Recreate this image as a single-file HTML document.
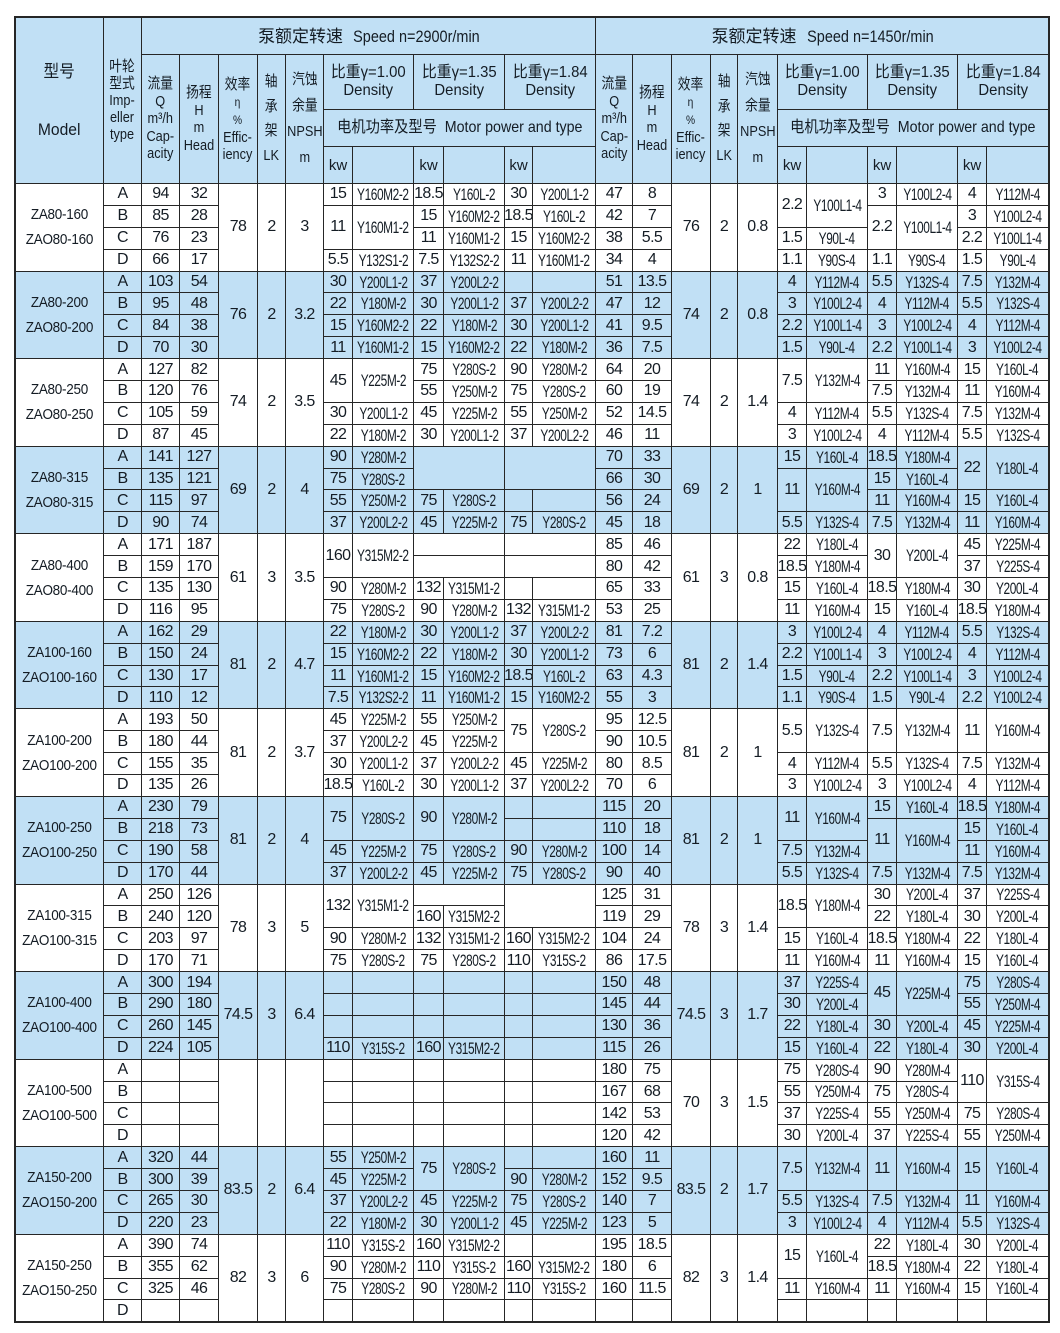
<!DOCTYPE html>
<html><head><meta charset="utf-8">
<style>
html,body{margin:0;padding:0;background:#fff}
body{width:1060px;height:1333px;position:relative;overflow:hidden;font-family:"Liberation Sans","Noto Sans CJK SC",sans-serif;color:#141c24}
#w{position:absolute;left:14px;top:16px;border:2px solid #262626;background:#262626;width:1032px}
.g{display:grid;grid-template-columns:87px 37px 37px 38px 38px 27px 37px 28px 60px 29px 60px 27px 62px 36px 38px 38px 26px 39px 28px 60px 28px 60px 28px 61px;gap:1px;background:#262626;margin-bottom:1px}
.g:last-child{margin-bottom:0}
.hd{grid-template-rows:36px 54px 36px 36px}
.bd{grid-template-rows:repeat(4,20.9px)}
c{display:flex;align-items:center;justify-content:center;text-align:center;white-space:nowrap;overflow:hidden;background:#fff;font-size:16px;letter-spacing:-.6px;line-height:1}
.hd c,.b c{background:#c1e0f5}
.r2{grid-row:span 2}.r3{grid-row:span 3}.r4{grid-row:span 4}.c2{grid-column:span 2}.c6{grid-column:span 6}.c11{grid-column:span 11}
t{display:inline-block;font-size:17px;transform:scaleX(.7)}
d{display:block;letter-spacing:0;white-space:nowrap}
.md{font-size:15px;line-height:25px;transform:scaleX(.9);letter-spacing:-.3px}
.hp{transform:scaleX(.85);font-size:15px}
.h0{font-size:17px;line-height:29px;transform:scaleX(.92)}
.sp{font-size:17px;letter-spacing:0}
.sl{display:inline-block;transform:scaleX(.85);margin:0 -12px 0 -1px}
.dn{font-size:16px;line-height:18px;transform:scaleX(.93)}
.hm{font-size:16px;transform:scaleX(.89)}
small{font-size:12px}
.kw{font-size:15px;letter-spacing:0}
</style></head><body>
<div id="w">
<div class="g hd">
<c class="r4"><d class="h0">型号<br><br>Model</d></c>
<c class="r4"><d class="hp" style="line-height:17px">叶轮<br>型式<br>Imp-<br>eller<br>type</d></c>
<c class="c11 sp">泵额定转速<span class="sl">Speed n=2900r/min</span></c>
<c class="c11 sp">泵额定转速<span class="sl">Speed n=1450r/min</span></c>
<c class="r3"><d class="hp" style="line-height:17.4px">流量<br>Q<br>m³/h<br>Cap-<br>acity</d></c>
<c class="r3"><d class="hp" style="line-height:17.5px">扬程<br>H<br>m<br>Head</d></c>
<c class="r3"><d class="hp" style="line-height:17px">效率<br><small>η</small><br><small>%</small><br>Effic-<br>iency</d></c>
<c class="r3"><d class="hp" style="line-height:24.5px">轴<br>承<br>架<br>LK</d></c>
<c class="r3"><d class="hp" style="line-height:26px">汽蚀<br>余量<br>NPSH<br>m</d></c>
<c class="c2"><d class="dn">比重γ=1.00<br>Density</d></c>
<c class="c2"><d class="dn">比重γ=1.35<br>Density</d></c>
<c class="c2"><d class="dn">比重γ=1.84<br>Density</d></c>
<c class="r3"><d class="hp" style="line-height:17.4px">流量<br>Q<br>m³/h<br>Cap-<br>acity</d></c>
<c class="r3"><d class="hp" style="line-height:17.5px">扬程<br>H<br>m<br>Head</d></c>
<c class="r3"><d class="hp" style="line-height:17px">效率<br><small>η</small><br><small>%</small><br>Effic-<br>iency</d></c>
<c class="r3"><d class="hp" style="line-height:24.5px">轴<br>承<br>架<br>LK</d></c>
<c class="r3"><d class="hp" style="line-height:26px">汽蚀<br>余量<br>NPSH<br>m</d></c>
<c class="c2"><d class="dn">比重γ=1.00<br>Density</d></c>
<c class="c2"><d class="dn">比重γ=1.35<br>Density</d></c>
<c class="c2"><d class="dn">比重γ=1.84<br>Density</d></c>
<c class="c6"><d class="hm">电机功率及型号&nbsp; Motor power and type</d></c>
<c class="c6"><d class="hm">电机功率及型号&nbsp; Motor power and type</d></c>
<c class="kw">kw</c><c></c><c class="kw">kw</c><c></c><c class="kw">kw</c><c></c>
<c class="kw">kw</c><c></c><c class="kw">kw</c><c></c><c class="kw">kw</c><c></c>
</div>

<div class="g bd">
<c class="r4"><d class="md">ZA80-160<br>ZAO80-160</d></c><c>A</c><c>94</c><c>32</c><c class="r4">78</c><c class="r4">2</c><c class="r4">3</c><c>15</c><c><t>Y160M2-2</t></c><c>18.5</c><c><t>Y160L-2</t></c><c>30</c><c><t>Y200L1-2</t></c><c>47</c><c>8</c><c class="r4">76</c><c class="r4">2</c><c class="r4">0.8</c><c class="r2">2.2</c><c class="r2"><t>Y100L1-4</t></c><c>3</c><c><t>Y100L2-4</t></c><c>4</c><c><t>Y112M-4</t></c>
<c>B</c><c>85</c><c>28</c><c class="r2">11</c><c class="r2"><t>Y160M1-2</t></c><c>15</c><c><t>Y160M2-2</t></c><c>18.5</c><c><t>Y160L-2</t></c><c>42</c><c>7</c><c class="r2">2.2</c><c class="r2"><t>Y100L1-4</t></c><c>3</c><c><t>Y100L2-4</t></c>
<c>C</c><c>76</c><c>23</c><c>11</c><c><t>Y160M1-2</t></c><c>15</c><c><t>Y160M2-2</t></c><c>38</c><c>5.5</c><c>1.5</c><c><t>Y90L-4</t></c><c>2.2</c><c><t>Y100L1-4</t></c>
<c>D</c><c>66</c><c>17</c><c>5.5</c><c><t>Y132S1-2</t></c><c>7.5</c><c><t>Y132S2-2</t></c><c>11</c><c><t>Y160M1-2</t></c><c>34</c><c>4</c><c>1.1</c><c><t>Y90S-4</t></c><c>1.1</c><c><t>Y90S-4</t></c><c>1.5</c><c><t>Y90L-4</t></c>
</div>

<div class="g bd b">
<c class="r4"><d class="md">ZA80-200<br>ZAO80-200</d></c><c>A</c><c>103</c><c>54</c><c class="r4">76</c><c class="r4">2</c><c class="r4">3.2</c><c>30</c><c><t>Y200L1-2</t></c><c>37</c><c><t>Y200L2-2</t></c><c></c><c></c><c>51</c><c>13.5</c><c class="r4">74</c><c class="r4">2</c><c class="r4">0.8</c><c>4</c><c><t>Y112M-4</t></c><c>5.5</c><c><t>Y132S-4</t></c><c>7.5</c><c><t>Y132M-4</t></c>
<c>B</c><c>95</c><c>48</c><c>22</c><c><t>Y180M-2</t></c><c>30</c><c><t>Y200L1-2</t></c><c>37</c><c><t>Y200L2-2</t></c><c>47</c><c>12</c><c>3</c><c><t>Y100L2-4</t></c><c>4</c><c><t>Y112M-4</t></c><c>5.5</c><c><t>Y132S-4</t></c>
<c>C</c><c>84</c><c>38</c><c>15</c><c><t>Y160M2-2</t></c><c>22</c><c><t>Y180M-2</t></c><c>30</c><c><t>Y200L1-2</t></c><c>41</c><c>9.5</c><c>2.2</c><c><t>Y100L1-4</t></c><c>3</c><c><t>Y100L2-4</t></c><c>4</c><c><t>Y112M-4</t></c>
<c>D</c><c>70</c><c>30</c><c>11</c><c><t>Y160M1-2</t></c><c>15</c><c><t>Y160M2-2</t></c><c>22</c><c><t>Y180M-2</t></c><c>36</c><c>7.5</c><c>1.5</c><c><t>Y90L-4</t></c><c>2.2</c><c><t>Y100L1-4</t></c><c>3</c><c><t>Y100L2-4</t></c>
</div>

<div class="g bd">
<c class="r4"><d class="md">ZA80-250<br>ZAO80-250</d></c><c>A</c><c>127</c><c>82</c><c class="r4">74</c><c class="r4">2</c><c class="r4">3.5</c><c class="r2">45</c><c class="r2"><t>Y225M-2</t></c><c>75</c><c><t>Y280S-2</t></c><c>90</c><c><t>Y280M-2</t></c><c>64</c><c>20</c><c class="r4">74</c><c class="r4">2</c><c class="r4">1.4</c><c class="r2">7.5</c><c class="r2"><t>Y132M-4</t></c><c>11</c><c><t>Y160M-4</t></c><c>15</c><c><t>Y160L-4</t></c>
<c>B</c><c>120</c><c>76</c><c>55</c><c><t>Y250M-2</t></c><c>75</c><c><t>Y280S-2</t></c><c>60</c><c>19</c><c>7.5</c><c><t>Y132M-4</t></c><c>11</c><c><t>Y160M-4</t></c>
<c>C</c><c>105</c><c>59</c><c>30</c><c><t>Y200L1-2</t></c><c>45</c><c><t>Y225M-2</t></c><c>55</c><c><t>Y250M-2</t></c><c>52</c><c>14.5</c><c>4</c><c><t>Y112M-4</t></c><c>5.5</c><c><t>Y132S-4</t></c><c>7.5</c><c><t>Y132M-4</t></c>
<c>D</c><c>87</c><c>45</c><c>22</c><c><t>Y180M-2</t></c><c>30</c><c><t>Y200L1-2</t></c><c>37</c><c><t>Y200L2-2</t></c><c>46</c><c>11</c><c>3</c><c><t>Y100L2-4</t></c><c>4</c><c><t>Y112M-4</t></c><c>5.5</c><c><t>Y132S-4</t></c>
</div>

<div class="g bd b">
<c class="r4"><d class="md">ZA80-315<br>ZAO80-315</d></c><c>A</c><c>141</c><c>127</c><c class="r4">69</c><c class="r4">2</c><c class="r4">4</c><c>90</c><c><t>Y280M-2</t></c><c class="c2 r2"></c><c class="c2 r2"></c><c>70</c><c>33</c><c class="r4">69</c><c class="r4">2</c><c class="r4">1</c><c>15</c><c><t>Y160L-4</t></c><c>18.5</c><c><t>Y180M-4</t></c><c class="r2">22</c><c class="r2"><t>Y180L-4</t></c>
<c>B</c><c>135</c><c>121</c><c>75</c><c><t>Y280S-2</t></c><c>66</c><c>30</c><c class="r2">11</c><c class="r2"><t>Y160M-4</t></c><c>15</c><c><t>Y160L-4</t></c>
<c>C</c><c>115</c><c>97</c><c>55</c><c><t>Y250M-2</t></c><c>75</c><c><t>Y280S-2</t></c><c></c><c></c><c>56</c><c>24</c><c>11</c><c><t>Y160M-4</t></c><c>15</c><c><t>Y160L-4</t></c>
<c>D</c><c>90</c><c>74</c><c>37</c><c><t>Y200L2-2</t></c><c>45</c><c><t>Y225M-2</t></c><c>75</c><c><t>Y280S-2</t></c><c>45</c><c>18</c><c>5.5</c><c><t>Y132S-4</t></c><c>7.5</c><c><t>Y132M-4</t></c><c>11</c><c><t>Y160M-4</t></c>
</div>

<div class="g bd">
<c class="r4"><d class="md">ZA80-400<br>ZAO80-400</d></c><c>A</c><c>171</c><c>187</c><c class="r4">61</c><c class="r4">3</c><c class="r4">3.5</c><c class="r2">160</c><c class="r2"><t>Y315M2-2</t></c><c class="c2"></c><c class="c2"></c><c>85</c><c>46</c><c class="r4">61</c><c class="r4">3</c><c class="r4">0.8</c><c>22</c><c><t>Y180L-4</t></c><c class="r2">30</c><c class="r2"><t>Y200L-4</t></c><c>45</c><c><t>Y225M-4</t></c>
<c>B</c><c>159</c><c>170</c><c class="c2"></c><c class="c2"></c><c>80</c><c>42</c><c>18.5</c><c><t>Y180M-4</t></c><c>37</c><c><t>Y225S-4</t></c>
<c>C</c><c>135</c><c>130</c><c>90</c><c><t>Y280M-2</t></c><c>132</c><c><t>Y315M1-2</t></c><c></c><c></c><c>65</c><c>33</c><c>15</c><c><t>Y160L-4</t></c><c>18.5</c><c><t>Y180M-4</t></c><c>30</c><c><t>Y200L-4</t></c>
<c>D</c><c>116</c><c>95</c><c>75</c><c><t>Y280S-2</t></c><c>90</c><c><t>Y280M-2</t></c><c>132</c><c><t>Y315M1-2</t></c><c>53</c><c>25</c><c>11</c><c><t>Y160M-4</t></c><c>15</c><c><t>Y160L-4</t></c><c>18.5</c><c><t>Y180M-4</t></c>
</div>

<div class="g bd b">
<c class="r4"><d class="md">ZA100-160<br>ZAO100-160</d></c><c>A</c><c>162</c><c>29</c><c class="r4">81</c><c class="r4">2</c><c class="r4">4.7</c><c>22</c><c><t>Y180M-2</t></c><c>30</c><c><t>Y200L1-2</t></c><c>37</c><c><t>Y200L2-2</t></c><c>81</c><c>7.2</c><c class="r4">81</c><c class="r4">2</c><c class="r4">1.4</c><c>3</c><c><t>Y100L2-4</t></c><c>4</c><c><t>Y112M-4</t></c><c>5.5</c><c><t>Y132S-4</t></c>
<c>B</c><c>150</c><c>24</c><c>15</c><c><t>Y160M2-2</t></c><c>22</c><c><t>Y180M-2</t></c><c>30</c><c><t>Y200L1-2</t></c><c>73</c><c>6</c><c>2.2</c><c><t>Y100L1-4</t></c><c>3</c><c><t>Y100L2-4</t></c><c>4</c><c><t>Y112M-4</t></c>
<c>C</c><c>130</c><c>17</c><c>11</c><c><t>Y160M1-2</t></c><c>15</c><c><t>Y160M2-2</t></c><c>18.5</c><c><t>Y160L-2</t></c><c>63</c><c>4.3</c><c>1.5</c><c><t>Y90L-4</t></c><c>2.2</c><c><t>Y100L1-4</t></c><c>3</c><c><t>Y100L2-4</t></c>
<c>D</c><c>110</c><c>12</c><c>7.5</c><c><t>Y132S2-2</t></c><c>11</c><c><t>Y160M1-2</t></c><c>15</c><c><t>Y160M2-2</t></c><c>55</c><c>3</c><c>1.1</c><c><t>Y90S-4</t></c><c>1.5</c><c><t>Y90L-4</t></c><c>2.2</c><c><t>Y100L2-4</t></c>
</div>

<div class="g bd">
<c class="r4"><d class="md">ZA100-200<br>ZAO100-200</d></c><c>A</c><c>193</c><c>50</c><c class="r4">81</c><c class="r4">2</c><c class="r4">3.7</c><c>45</c><c><t>Y225M-2</t></c><c>55</c><c><t>Y250M-2</t></c><c class="r2">75</c><c class="r2"><t>Y280S-2</t></c><c>95</c><c>12.5</c><c class="r4">81</c><c class="r4">2</c><c class="r4">1</c><c class="r2">5.5</c><c class="r2"><t>Y132S-4</t></c><c class="r2">7.5</c><c class="r2"><t>Y132M-4</t></c><c class="r2">11</c><c class="r2"><t>Y160M-4</t></c>
<c>B</c><c>180</c><c>44</c><c>37</c><c><t>Y200L2-2</t></c><c>45</c><c><t>Y225M-2</t></c><c>90</c><c>10.5</c>
<c>C</c><c>155</c><c>35</c><c>30</c><c><t>Y200L1-2</t></c><c>37</c><c><t>Y200L2-2</t></c><c>45</c><c><t>Y225M-2</t></c><c>80</c><c>8.5</c><c>4</c><c><t>Y112M-4</t></c><c>5.5</c><c><t>Y132S-4</t></c><c>7.5</c><c><t>Y132M-4</t></c>
<c>D</c><c>135</c><c>26</c><c>18.5</c><c><t>Y160L-2</t></c><c>30</c><c><t>Y200L1-2</t></c><c>37</c><c><t>Y200L2-2</t></c><c>70</c><c>6</c><c>3</c><c><t>Y100L2-4</t></c><c>3</c><c><t>Y100L2-4</t></c><c>4</c><c><t>Y112M-4</t></c>
</div>

<div class="g bd b">
<c class="r4"><d class="md">ZA100-250<br>ZAO100-250</d></c><c>A</c><c>230</c><c>79</c><c class="r4">81</c><c class="r4">2</c><c class="r4">4</c><c class="r2">75</c><c class="r2"><t>Y280S-2</t></c><c class="r2">90</c><c class="r2"><t>Y280M-2</t></c><c></c><c></c><c>115</c><c>20</c><c class="r4">81</c><c class="r4">2</c><c class="r4">1</c><c class="r2">11</c><c class="r2"><t>Y160M-4</t></c><c>15</c><c><t>Y160L-4</t></c><c>18.5</c><c><t>Y180M-4</t></c>
<c>B</c><c>218</c><c>73</c><c></c><c></c><c>110</c><c>18</c><c class="r2">11</c><c class="r2"><t>Y160M-4</t></c><c>15</c><c><t>Y160L-4</t></c>
<c>C</c><c>190</c><c>58</c><c>45</c><c><t>Y225M-2</t></c><c>75</c><c><t>Y280S-2</t></c><c>90</c><c><t>Y280M-2</t></c><c>100</c><c>14</c><c>7.5</c><c><t>Y132M-4</t></c><c>11</c><c><t>Y160M-4</t></c>
<c>D</c><c>170</c><c>44</c><c>37</c><c><t>Y200L2-2</t></c><c>45</c><c><t>Y225M-2</t></c><c>75</c><c><t>Y280S-2</t></c><c>90</c><c>40</c><c>5.5</c><c><t>Y132S-4</t></c><c>7.5</c><c><t>Y132M-4</t></c><c>7.5</c><c><t>Y132M-4</t></c>
</div>

<div class="g bd">
<c class="r4"><d class="md">ZA100-315<br>ZAO100-315</d></c><c>A</c><c>250</c><c>126</c><c class="r4">78</c><c class="r4">3</c><c class="r4">5</c><c class="r2">132</c><c class="r2"><t>Y315M1-2</t></c><c class="c2"></c><c class="c2 r2"></c><c>125</c><c>31</c><c class="r4">78</c><c class="r4">3</c><c class="r4">1.4</c><c class="r2">18.5</c><c class="r2"><t>Y180M-4</t></c><c>30</c><c><t>Y200L-4</t></c><c>37</c><c><t>Y225S-4</t></c>
<c>B</c><c>240</c><c>120</c><c>160</c><c><t>Y315M2-2</t></c><c>119</c><c>29</c><c>22</c><c><t>Y180L-4</t></c><c>30</c><c><t>Y200L-4</t></c>
<c>C</c><c>203</c><c>97</c><c>90</c><c><t>Y280M-2</t></c><c>132</c><c><t>Y315M1-2</t></c><c>160</c><c><t>Y315M2-2</t></c><c>104</c><c>24</c><c>15</c><c><t>Y160L-4</t></c><c>18.5</c><c><t>Y180M-4</t></c><c>22</c><c><t>Y180L-4</t></c>
<c>D</c><c>170</c><c>71</c><c>75</c><c><t>Y280S-2</t></c><c>75</c><c><t>Y280S-2</t></c><c>110</c><c><t>Y315S-2</t></c><c>86</c><c>17.5</c><c>11</c><c><t>Y160M-4</t></c><c>11</c><c><t>Y160M-4</t></c><c>15</c><c><t>Y160L-4</t></c>
</div>

<div class="g bd b">
<c class="r4"><d class="md">ZA100-400<br>ZAO100-400</d></c><c>A</c><c>300</c><c>194</c><c class="r4">74.5</c><c class="r4">3</c><c class="r4">6.4</c><c></c><c></c><c></c><c></c><c></c><c></c><c>150</c><c>48</c><c class="r4">74.5</c><c class="r4">3</c><c class="r4">1.7</c><c>37</c><c><t>Y225S-4</t></c><c class="r2">45</c><c class="r2"><t>Y225M-4</t></c><c>75</c><c><t>Y280S-4</t></c>
<c>B</c><c>290</c><c>180</c><c></c><c></c><c></c><c></c><c></c><c></c><c>145</c><c>44</c><c>30</c><c><t>Y200L-4</t></c><c>55</c><c><t>Y250M-4</t></c>
<c>C</c><c>260</c><c>145</c><c></c><c></c><c></c><c></c><c></c><c></c><c>130</c><c>36</c><c>22</c><c><t>Y180L-4</t></c><c>30</c><c><t>Y200L-4</t></c><c>45</c><c><t>Y225M-4</t></c>
<c>D</c><c>224</c><c>105</c><c>110</c><c><t>Y315S-2</t></c><c>160</c><c><t>Y315M2-2</t></c><c></c><c></c><c>115</c><c>26</c><c>15</c><c><t>Y160L-4</t></c><c>22</c><c><t>Y180L-4</t></c><c>30</c><c><t>Y200L-4</t></c>
</div>

<div class="g bd">
<c class="r4"><d class="md">ZA100-500<br>ZAO100-500</d></c><c>A</c><c></c><c></c><c class="r4"></c><c class="r4"></c><c class="r4"></c><c></c><c></c><c></c><c></c><c></c><c></c><c>180</c><c>75</c><c class="r4">70</c><c class="r4">3</c><c class="r4">1.5</c><c>75</c><c><t>Y280S-4</t></c><c>90</c><c><t>Y280M-4</t></c><c class="r2">110</c><c class="r2"><t>Y315S-4</t></c>
<c>B</c><c></c><c></c><c></c><c></c><c></c><c></c><c></c><c></c><c>167</c><c>68</c><c>55</c><c><t>Y250M-4</t></c><c>75</c><c><t>Y280S-4</t></c>
<c>C</c><c></c><c></c><c></c><c></c><c></c><c></c><c></c><c></c><c>142</c><c>53</c><c>37</c><c><t>Y225S-4</t></c><c>55</c><c><t>Y250M-4</t></c><c>75</c><c><t>Y280S-4</t></c>
<c>D</c><c></c><c></c><c></c><c></c><c></c><c></c><c></c><c></c><c>120</c><c>42</c><c>30</c><c><t>Y200L-4</t></c><c>37</c><c><t>Y225S-4</t></c><c>55</c><c><t>Y250M-4</t></c>
</div>

<div class="g bd b">
<c class="r4"><d class="md">ZA150-200<br>ZAO150-200</d></c><c>A</c><c>320</c><c>44</c><c class="r4">83.5</c><c class="r4">2</c><c class="r4">6.4</c><c>55</c><c><t>Y250M-2</t></c><c class="r2">75</c><c class="r2"><t>Y280S-2</t></c><c></c><c></c><c>160</c><c>11</c><c class="r4">83.5</c><c class="r4">2</c><c class="r4">1.7</c><c class="r2">7.5</c><c class="r2"><t>Y132M-4</t></c><c class="r2">11</c><c class="r2"><t>Y160M-4</t></c><c class="r2">15</c><c class="r2"><t>Y160L-4</t></c>
<c>B</c><c>300</c><c>39</c><c>45</c><c><t>Y225M-2</t></c><c>90</c><c><t>Y280M-2</t></c><c>152</c><c>9.5</c>
<c>C</c><c>265</c><c>30</c><c>37</c><c><t>Y200L2-2</t></c><c>45</c><c><t>Y225M-2</t></c><c>75</c><c><t>Y280S-2</t></c><c>140</c><c>7</c><c>5.5</c><c><t>Y132S-4</t></c><c>7.5</c><c><t>Y132M-4</t></c><c>11</c><c><t>Y160M-4</t></c>
<c>D</c><c>220</c><c>23</c><c>22</c><c><t>Y180M-2</t></c><c>30</c><c><t>Y200L1-2</t></c><c>45</c><c><t>Y225M-2</t></c><c>123</c><c>5</c><c>3</c><c><t>Y100L2-4</t></c><c>4</c><c><t>Y112M-4</t></c><c>5.5</c><c><t>Y132S-4</t></c>
</div>

<div class="g bd">
<c class="r4"><d class="md">ZA150-250<br>ZAO150-250</d></c><c>A</c><c>390</c><c>74</c><c class="r4">82</c><c class="r4">3</c><c class="r4">6</c><c>110</c><c><t>Y315S-2</t></c><c>160</c><c><t>Y315M2-2</t></c><c></c><c></c><c>195</c><c>18.5</c><c class="r4">82</c><c class="r4">3</c><c class="r4">1.4</c><c class="r2">15</c><c class="r2"><t>Y160L-4</t></c><c>22</c><c><t>Y180L-4</t></c><c>30</c><c><t>Y200L-4</t></c>
<c>B</c><c>355</c><c>62</c><c>90</c><c><t>Y280M-2</t></c><c>110</c><c><t>Y315S-2</t></c><c>160</c><c><t>Y315M2-2</t></c><c>180</c><c>6</c><c>18.5</c><c><t>Y180M-4</t></c><c>22</c><c><t>Y180L-4</t></c>
<c>C</c><c>325</c><c>46</c><c>75</c><c><t>Y280S-2</t></c><c>90</c><c><t>Y280M-2</t></c><c>110</c><c><t>Y315S-2</t></c><c>160</c><c>11.5</c><c>11</c><c><t>Y160M-4</t></c><c>11</c><c><t>Y160M-4</t></c><c>15</c><c><t>Y160L-4</t></c>
<c>D</c><c></c><c></c><c></c><c></c><c></c><c></c><c></c><c></c><c></c><c></c><c></c><c></c><c></c><c></c><c></c><c></c>
</div>
</div>
</body></html>
